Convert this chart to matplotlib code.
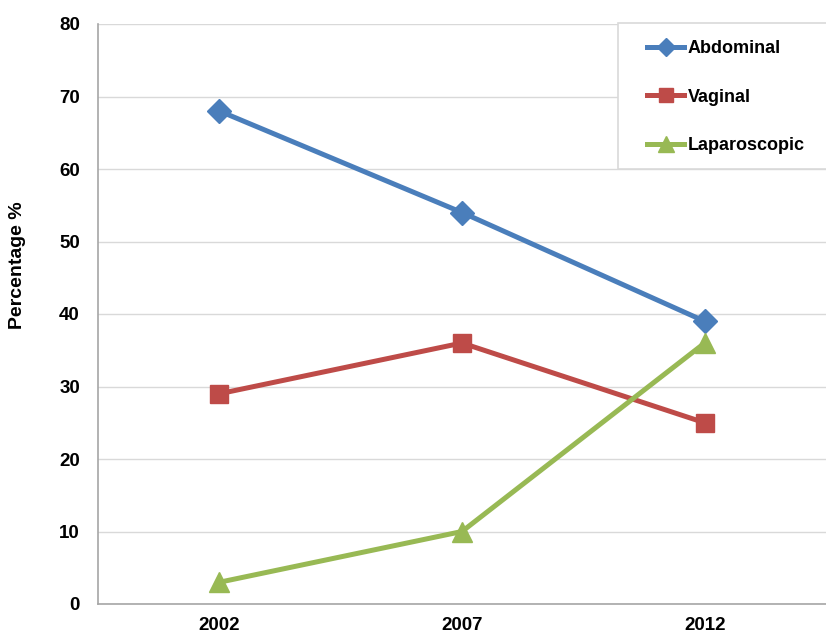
import matplotlib
matplotlib.use("Agg")
import matplotlib.pyplot as plt
from matplotlib.patches import Rectangle

years = ["2002", "2007", "2012"]
abdominal = [68, 54, 39]
vaginal = [29, 36, 25]
laparoscopic = [3, 10, 36]
yticks = [0, 10, 20, 30, 40, 50, 60, 70, 80]

plt.rcParams['font.family'] = ['Liberation Sans', 'DejaVu Sans']
plt.rcParams['font.weight'] = 'bold'

W, H = 826, 636
fig = plt.figure(figsize=(W/100, H/100), dpi=100)
ax = fig.add_axes([98/W, 32/H, 1 - 98/W, 580/H])

x = list(range(len(years)))
ax.plot(x, abdominal, color='#4A7EBB', lw=3.6, marker='D', ms=12, label='Abdominal', zorder=3)
ax.plot(x, vaginal, color='#BE4B48', lw=3.6, marker='s', ms=13, label='Vaginal', zorder=3)
ax.plot(x, laparoscopic, color='#98B954', lw=3.6, marker='^', ms=14, label='Laparoscopic', zorder=3)

ax.set_xlim(-0.5, 2.5)
ax.set_ylim(0, 80)
ax.set_xticks(x)
ax.set_xticklabels(years, fontsize=13.5, fontweight='bold')
ax.set_yticks(yticks)
ax.set_yticklabels([str(v) for v in yticks], fontsize=13.5, fontweight='bold')
ax.tick_params(length=0)
ax.tick_params(axis='y', pad=13)
ax.tick_params(axis='x', pad=9)
ax.grid(axis='y', color='#D9D9D9', lw=1)
ax.set_axisbelow(True)
for s in ['top', 'right']:
    ax.spines[s].set_visible(False)
for s in ['left', 'bottom']:
    ax.spines[s].set_color('#A6A6A6')
    ax.spines[s].set_linewidth(1.2)

fig.text(18/W, 1 - 265/H, 'Percentage %', rotation=90, ha='center', va='center',
         fontsize=14, fontweight='bold')

# legend box
box = Rectangle((618/W, 1 - 169/H), (W - 618 + 10)/W, (169 - 23)/H,
                transform=fig.transFigure, facecolor='white',
                edgecolor='#D9D9D9', lw=1.2, zorder=4, clip_on=False)
ax.add_patch(box)

leg = ax.legend(loc='upper left', bbox_to_anchor=(647/W, 1 - 40/H), bbox_transform=fig.transFigure,
                fontsize=13, frameon=False,
                labelspacing=1.75, handlelength=2.05, handletextpad=0.2, borderpad=0,
                borderaxespad=0, markerscale=0.8)
leg.set_zorder(5)
for t in leg.get_texts():
    t.set_fontweight('bold')

fig.savefig('out.png', dpi=100, facecolor='white')
